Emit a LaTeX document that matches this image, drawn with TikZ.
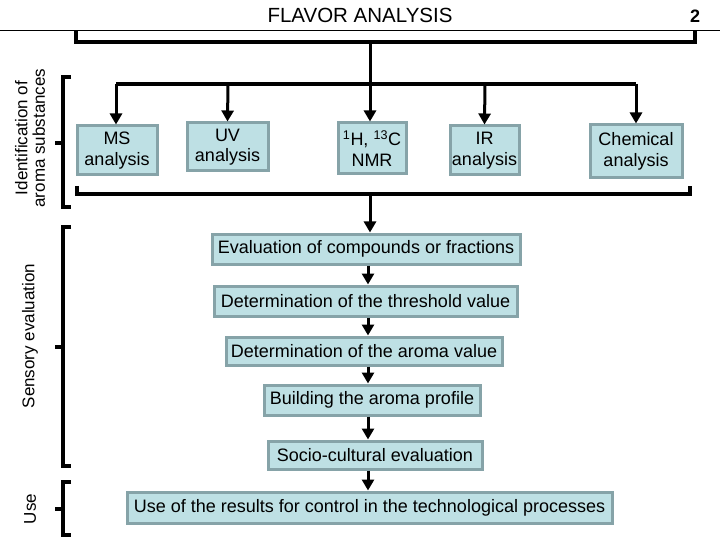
\documentclass[tikz,border=0pt]{standalone}
\usepackage{fontspec}
\setmainfont{Liberation Sans}
\usetikzlibrary{arrows.meta}
\definecolor{boxfill}{HTML}{BEE0E4}
\definecolor{boxline}{HTML}{86A3A8}
\tikzset{
  box/.style={draw=boxline, line width=3pt, fill=boxfill, inner sep=0pt, align=center,
    font=\fontsize{18}{20.5}\selectfont},
  arr/.style={line width=3pt, -{Triangle[width=12pt,length=11pt]}},
  brk/.style={line width=3.2pt},
  side/.style={rotate=90, align=center, font=\fontsize{17}{17.5}\selectfont},
}
\begin{document}
\begin{tikzpicture}[x=1pt,y=-1pt]
\useasboundingbox (0,0) rectangle (720,540);
% header
\node (title) at (360,15) {\fontsize{20.5}{22}\selectfont FLAVOR ANALYSIS};
\node (num) at (695,16) {\fontsize{18}{20}\selectfont\bfseries 2};
\draw[line width=1pt] (0,31) -- (720,31);
% top bracket
\coordinate (tbc) at (370,42);
\draw[brk] (76,31) -- (76,42) -- (695,42) -- (695,31);
% side brackets
\draw[brk] (71,77) -- (63,77) -- (63,207) -- (71,207);
\draw[brk] (55,143) -- (63,143);
\draw[brk] (71,227) -- (63,227) -- (63,466) -- (71,466);
\draw[brk] (55,347) -- (63,347);
\draw[brk] (71,482) -- (63,482) -- (63,535) -- (71,535);
\draw[brk] (55,509) -- (63,509);
\node[side] (lid) at (30,138) {Identification of\\aroma substances};
\node[side] (lsens) at (30,336) {Sensory evaluation};
\node[side] (luse) at (30,509) {Use};
% analysis boxes
\node[box, minimum width=80, minimum height=49] (ms) at (117,150.5) {MS\\analysis};
\node[box, minimum width=81, minimum height=48] (uv) at (227.5,147) {UV\\analysis};
\node[box, minimum width=68, minimum height=51] (nmr) at (372,148.5) {\textsuperscript{1}H, \textsuperscript{13}C\\NMR};
\node[box, minimum width=69, minimum height=49] (ir) at (484.5,150.5) {IR\\analysis};
\node[box, minimum width=92, minimum height=53] (chem) at (636,151.5) {Chemical\\analysis};
% distribution line
\coordinate (dl) at (116,84);
\coordinate (dr) at (636,84);
\draw[brk] (dl) -- (dr);
\draw[arr] (dl) -- (ms.north -| dl);
\draw[arr] (228,84) -- (uv.north);
\draw[arr] (tbc) -- (tbc |- nmr.north);
\draw[arr] (485,84) -- (ir.north);
\draw[arr] (dr) -- (chem.north);
% lower bracket of identification
\coordinate (bbc) at (370,194);
\draw[brk] (77,186) -- (77,194) -- (690,194) -- (690,186);
% flow boxes
\node[box, minimum width=308, minimum height=30] (eval) at (366,249) {Evaluation of compounds or fractions};
\node[box, minimum width=303, minimum height=30] (thr) at (365.5,301) {Determination of the threshold value};
\node[box, minimum width=276, minimum height=28] (arv) at (364,351) {Determination of the aroma value};
\node[box, minimum width=216, minimum height=30] (bld) at (372,400) {Building the aroma profile};
\node[box, minimum width=214, minimum height=28] (soc) at (375,455) {Socio-cultural evaluation};
\node[box, minimum width=485, minimum height=31] (use) at (369.5,507.5) {Use of the results for control in the technological processes};
\coordinate (fx) at (368,0);
\draw[arr] (bbc) -- (bbc |- eval.north);
\draw[arr] (eval.south -| fx) -- (thr.north -| fx);
\draw[arr] (thr.south -| fx) -- (arv.north -| fx);
\draw[arr] (arv.south -| fx) -- (bld.north -| fx);
\draw[arr] (bld.south -| fx) -- (soc.north -| fx);
\draw[arr] (soc.south -| fx) -- (use.north -| fx);
\end{tikzpicture}
\end{document}
